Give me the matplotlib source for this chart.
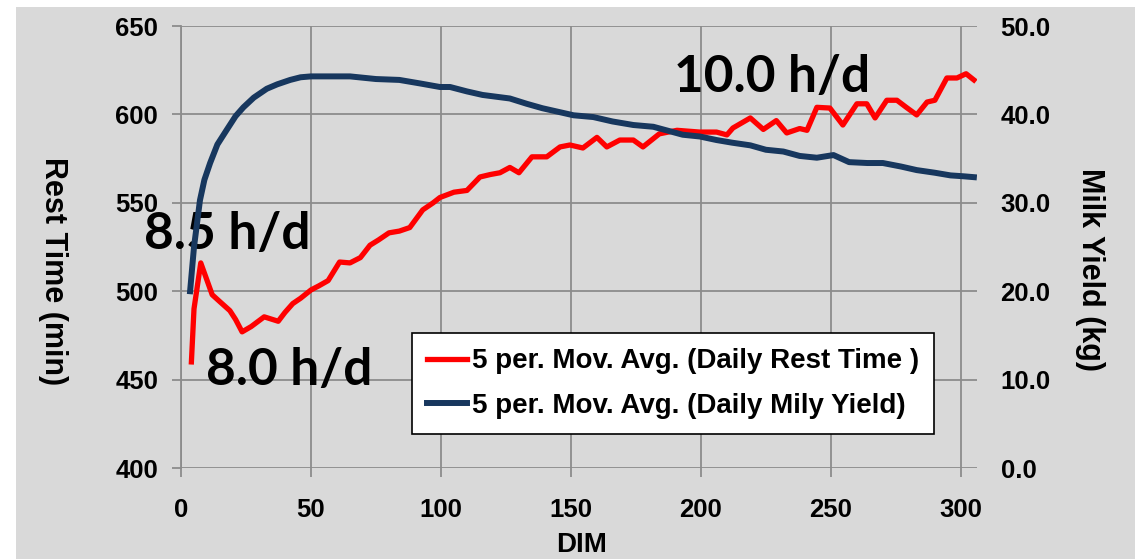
import matplotlib
matplotlib.use("Agg")
import matplotlib.pyplot as plt
from matplotlib.patches import Rectangle
from matplotlib.ticker import FormatStrFormatter

# 5-day moving averages
rest_dim = [4, 5, 7.6, 12, 15, 18.8, 21, 23.5, 27, 32, 37.4, 40, 43, 46, 50, 53,
            56.6, 61, 65, 69, 72.7, 76, 80, 84, 88, 93, 97, 99.6, 105, 110, 115,
            119, 122.7, 126.5, 130, 135, 140.7, 145.8, 149.6, 154.6, 160, 163.8,
            168.8, 174, 177.7, 184, 190.8, 199.6, 206, 210, 212.3, 219, 224, 229,
            233, 238, 240.8, 244.6, 249.6, 254.6, 260, 263.8, 267, 271.5, 275.4,
            279, 283, 287, 290, 294.6, 298.5, 302, 305]
rest_min = [460, 490, 516, 498, 494, 489, 484, 477, 480, 485.5, 483, 488, 493, 496,
            500.7, 503, 506, 516.5, 516, 519, 526, 529, 533, 534, 536, 546, 550,
            553, 556, 557, 564.6, 566, 567, 570, 567, 576, 576, 581.6, 582.7, 581,
            587, 581.6, 585.5, 585.5, 581.6, 589, 591, 590, 590, 588.4, 592.3, 598,
            591.5, 596.5, 589.5, 592, 591, 604, 603.6, 594, 606, 606, 598, 608, 608,
            604, 599.7, 607, 608, 620.6, 620.6, 623, 619.5]

milk_dim = [3.5, 5, 7.3, 9, 11.2, 14, 17.7, 21, 24, 28, 33, 37, 42, 46, 50, 58, 65,
            75, 84, 92, 99.6, 103.5, 110, 116, 126.5, 133, 139, 145, 151, 158.6,
            166, 174, 181.7, 193, 199.6, 206, 212, 219, 225, 231.7, 238, 244.6,
            251, 257, 264, 270, 277, 283, 290, 296, 301, 305]
milk_kg = [20.0, 25.0, 30.3, 32.6, 34.5, 36.6, 38.3, 39.8, 40.8, 41.9, 42.9, 43.4,
           43.9, 44.2, 44.3, 44.3, 44.3, 44.0, 43.9, 43.5, 43.1, 43.1, 42.6, 42.2,
           41.8, 41.2, 40.7, 40.3, 39.9, 39.7, 39.2, 38.8, 38.6, 37.7, 37.5, 37.1,
           36.8, 36.5, 36.0, 35.8, 35.3, 35.1, 35.4, 34.6, 34.5, 34.5, 34.1, 33.7,
           33.4, 33.1, 33.0, 32.9]

x_ticks = [0, 50, 100, 150, 200, 250, 300]
rest_ticks = [400, 450, 500, 550, 600, 650]
milk_ticks = [0, 10, 20, 30, 40, 50]

notes = [("8.5 h/d", 17.7, 532), ("8.0 h/d", 41.6, 455), ("10.0 h/d", 227.3, 621)]

BG = "#d9d9d9"
GRID = "#8c8c8c"
RED = "#ff0000"
NAVY = "#17375e"

fig = plt.figure(figsize=(11.35, 5.59), dpi=100, facecolor="white")
fig.patches.append(Rectangle((16 / 1135, 0), 1, 1 - 7 / 559, transform=fig.transFigure,
                             facecolor=BG, edgecolor="none", zorder=-10))

ax = fig.add_axes([181 / 1135, 1 - 468 / 559, 796 / 1135, 442 / 559])
ax.set_facecolor("none")
ax2 = ax.twinx()

ax.set_xlim(0, 306.2)
ax.set_ylim(400, 650)
ax2.set_ylim(0, 50)

ax.set_xticks(x_ticks)
ax.set_yticks(rest_ticks)
ax2.set_yticks(milk_ticks)
ax2.yaxis.set_major_formatter(FormatStrFormatter("%.1f"))

ax.grid(True, color=GRID, linewidth=1.3)
ax.set_axisbelow(True)
for s in ["top", "right", "bottom"]:
    ax.spines[s].set_visible(False)
ax.spines["left"].set_color(GRID)
ax.spines["left"].set_linewidth(1.3)
for s in ax2.spines.values():
    s.set_visible(False)

tick_font = dict(fontfamily="Liberation Sans", fontweight="bold", fontsize=18.5)
ax.tick_params(axis="both", direction="out", length=6.5, width=1.3, color=GRID)
ax.tick_params(axis="x", pad=15)
ax.tick_params(axis="y", pad=10)
ax2.tick_params(axis="y", length=0, pad=17)
for lab in ax.get_xticklabels() + ax.get_yticklabels() + ax2.get_yticklabels():
    lab.set(**tick_font)

l1, = ax.plot(rest_dim, rest_min, color=RED, linewidth=3.8, solid_joinstyle="round",
              label="5 per. Mov. Avg. (Daily Rest Time )")
l2, = ax2.plot(milk_dim, milk_kg, color=NAVY, linewidth=4.3, solid_joinstyle="round",
               label="5 per. Mov. Avg. (Daily Mily Yield)")

label_font = dict(fontfamily="Liberation Sans", fontweight="bold")
ax.set_ylabel("Rest Time (min)", rotation=-90, fontsize=22, labelpad=0, **label_font)
ax.yaxis.set_label_coords((38 - 181) / 796, 0.446)
ax2.set_ylabel("Milk Yield (kg)", rotation=-90, fontsize=22, **label_font)
ax2.yaxis.set_label_coords((1105 - 181) / 796, 0.448)
ax.set_xlabel("DIM", fontsize=20, **label_font)
ax.xaxis.set_label_coords((582 - 181) / 796, -(532 - 468) / 442)

for txt, x, y in notes:
    ax.text(x, y, txt, ha="center", va="center", fontsize=37, fontfamily="Lato",
            fontweight="bold", color="black", zorder=5)

leg = ax2.legend(handles=[l1, l2], loc="upper left", bbox_to_anchor=(0.29, 0.305),
                 borderaxespad=0, frameon=True, fancybox=False, framealpha=1,
                 edgecolor="black", facecolor="white", handlelength=1.45,
                 handletextpad=0.15, labelspacing=0.65, borderpad=0.55,
                 prop=dict(family="Liberation Sans", weight="bold", size=20))
leg.get_frame().set_linewidth(1.2)
leg.set_zorder(6)

fig.savefig("out.png", dpi=100, facecolor="white")
